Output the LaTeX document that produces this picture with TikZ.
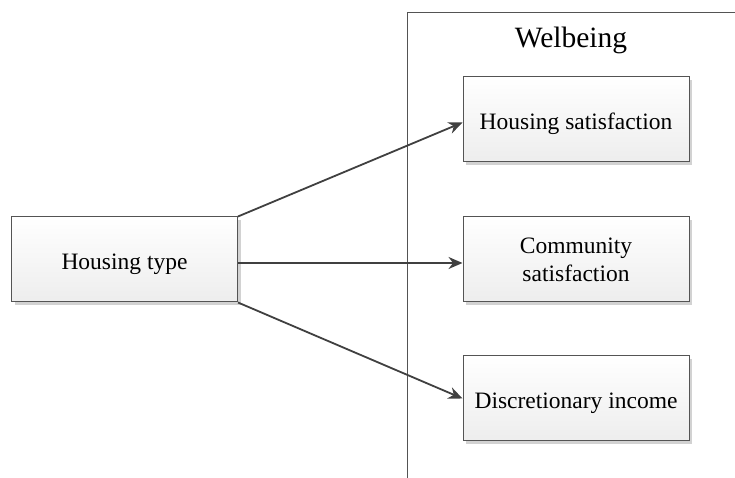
\documentclass[tikz,border=0pt]{standalone}
\usepackage{fontspec}
\setmainfont{Liberation Serif}
\usepackage{tikz}
\usetikzlibrary{arrows.meta, shadows, positioning}
\definecolor{edgegray}{rgb}{0.33,0.33,0.33}
\definecolor{linegray}{rgb}{0.25,0.25,0.25}

\begin{document}
\begin{tikzpicture}[x=1pt, y=1pt,
		box/.style={draw=edgegray, line width=1pt, top color=white, bottom color=gray!14,
			minimum width=226pt, minimum height=85pt, align=center,
			font=\fontsize{23.5}{28}\selectfont,
			drop shadow={shadow xshift=3pt, shadow yshift=-3pt, fill=gray!35, opacity=1}},
		oneline/.style={text height=21pt, text depth=0pt},
		link/.style={draw=linegray, line width=1.8pt, -{Stealth[length=14pt, width=12pt]}}]
		\useasboundingbox (0,0) rectangle (735,478);

		% welbeing frame
		\coordinate (W1) at (407,0);
		\coordinate (W2) at (407,465);
		\coordinate (W3) at (735,465);
		\draw [edgegray, line width=1pt] (W1) -- (W2) -- (W3);
		\node (welbeing) at (571,438) {\fontsize{29.5}{34}\selectfont Welbeing};

		\node [box, oneline] (type) at (124.5,218.5) {Housing type};
		\node [box, oneline] (house) at (576,358.5) {Housing satisfaction};
		\node [box] (community) at (576,218.5) {Community\\satisfaction};
		\node [box, oneline] (income) at (576,79.5) {Discretionary income};

		\draw [link] (type.north east) -- ([yshift=-3pt]house.west);
		\draw [link] ([yshift=-3.5pt]type.east) -- ([yshift=-3.5pt]community.west);
		\draw [link] (type.south east) -- (income.west);
	\end{tikzpicture}
\end{document}
